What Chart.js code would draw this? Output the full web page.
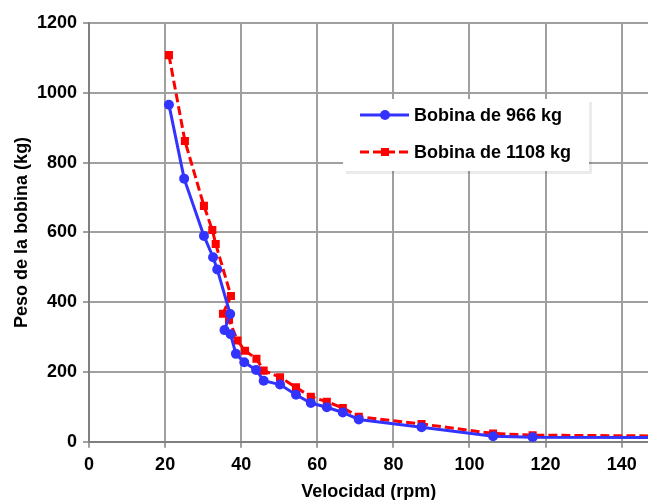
<!DOCTYPE html>
<html>
<head>
<meta charset="utf-8">
<script src="https://cdn.jsdelivr.net/npm/chart.js@4/dist/chart.umd.min.js"></script>
<style>
    html, body { margin: 0; padding: 0; background: #fff; overflow: hidden; }
    #wrap { width: 654px; height: 500px; }
</style>
</head>
<body>
<div id="wrap"><canvas id="grafico"></canvas></div>
<script>

// datos
const velocidad966 = [
    21, 25, 30.2, 32.6, 33.7, 37.1, 35.6, 37.2, 38.6, 40.8, 43.9,
    45.9, 50.2, 54.4, 58.3, 62.5, 66.7, 70.9, 87.4, 106.2, 116.6, 160
];
const peso966 = [
    966, 754, 590, 529, 494, 366, 320, 308, 252, 228, 206,
    175, 164, 135, 111, 99, 84, 64, 42, 16, 13, 12
];

const velocidad1108 = [
    21, 25.2, 30.2, 32.4, 33.3, 37.3, 35.2, 36.8, 39, 41, 44,
    45.9, 50.2, 54.4, 58.3, 62.5, 66.7, 70.9, 87.4, 106.2, 116.6, 160
];
const peso1108 = [
    1108, 862, 676, 607, 567, 418, 367, 350, 290, 261, 238,
    204, 185, 156, 129, 115, 97, 72, 51, 24, 19, 16
];

const nombresSeries = ["Bobina de 966 kg", "Bobina de 1108 kg"];
const tituloX = "Velocidad (rpm)";
const tituloY = "Peso de la bobina (kg)";

const fuente = "'Liberation Sans', Arial, Helvetica, sans-serif";

function aPuntos(xs, ys) {
    return xs.map((x, i) => ({ x, y: ys[i] }));
}

// leyenda dentro del area del grafico
const leyendaInterna = {
    id: "leyendaInterna",
    afterDatasetsDraw(chart) {
        const ctx = chart.ctx;
        const bx = 343, by = 99, bw = 246, bh = 72;

        ctx.save();
        ctx.fillStyle = "rgba(0,0,0,0.08)";
        ctx.fillRect(bx + 3, by + 3, bw, bh);
        ctx.fillStyle = "#ffffff";
        ctx.fillRect(bx, by, bw, bh);

        chart.data.datasets.forEach((ds, i) => {
            const y = 115 + i * 37;
            ctx.strokeStyle = ds.borderColor;
            ctx.lineWidth = ds.borderWidth;
            ctx.setLineDash(ds.borderDash || []);
            ctx.beginPath();
            ctx.moveTo(360, y);
            ctx.lineTo(409, y);
            ctx.stroke();
            ctx.setLineDash([]);

            ctx.fillStyle = ds.pointBackgroundColor;
            if (ds.pointStyle === "rect") {
                ctx.fillRect(381, y - 4, 8, 8);
            } else {
                ctx.beginPath();
                ctx.arc(385, y, 5, 0, Math.PI * 2);
                ctx.fill();
            }

            ctx.fillStyle = "#000";
            ctx.font = "bold 18px " + fuente;
            ctx.textBaseline = "middle";
            ctx.fillText(ds.label, 414, y + 1);
        });
        ctx.restore();
    }
};

const canvas = document.getElementById("grafico");

new Chart(canvas, {
    type: "scatter",
    data: {
        datasets: [
            {
                label: nombresSeries[0],
                data: aPuntos(velocidad966, peso966),
                showLine: true,
                borderColor: "#3333ff",
                backgroundColor: "#3333ff",
                pointBackgroundColor: "#3333ff",
                pointBorderWidth: 0,
                borderWidth: 3,
                pointStyle: "circle",
                pointRadius: 5,
                tension: 0
            },
            {
                label: nombresSeries[1],
                data: aPuntos(velocidad1108, peso1108),
                showLine: true,
                borderColor: "#ff0000",
                backgroundColor: "#ff0000",
                pointBackgroundColor: "#ff0000",
                pointBorderWidth: 0,
                borderWidth: 3,
                borderDash: [9, 4],
                pointStyle: "rect",
                pointRadius: 5.7,
                tension: 0
            }
        ]
    },
    options: {
        responsive: true,
        maintainAspectRatio: false,
        animation: false,
        layout: {
            padding: { top: 23, right: 0, left: 13, bottom: -3 }
        },
        plugins: {
            legend: { display: false },
            tooltip: { enabled: false }
        },
        scales: {
            x: {
                type: "linear",
                min: 0,
                max: 147,
                grid: {
                    color: "#a0a0a0",
                    lineWidth: 2,
                    tickLength: 6
                },
                border: { color: "#808080", width: 2 },
                ticks: {
                    stepSize: 20,
                    includeBounds: false,
                    color: "#000",
                    padding: 6,
                    maxRotation: 0,
                    callback: v => String(v),
                    font: { family: fuente, size: 18, weight: "bold" }
                },
                title: {
                    display: true,
                    text: tituloX,
                    color: "#000",
                    padding: { top: 0, bottom: 0 },
                    font: { family: fuente, size: 18, weight: "bold" }
                }
            },
            y: {
                min: 0,
                max: 1200,
                grid: {
                    color: "#a0a0a0",
                    lineWidth: 2,
                    tickLength: 6
                },
                border: { color: "#808080", width: 2 },
                ticks: {
                    stepSize: 200,
                    color: "#000",
                    padding: 6,
                    callback: v => String(v),
                    font: { family: fuente, size: 18, weight: "bold" }
                },
                title: {
                    display: true,
                    text: tituloY,
                    color: "#000",
                    padding: { top: 0, bottom: 0 },
                    font: { family: fuente, size: 18, weight: "bold", lineHeight: 1 }
                }
            }
        }
    },
    plugins: [leyendaInterna]
});
</script>
</body>
</html>
